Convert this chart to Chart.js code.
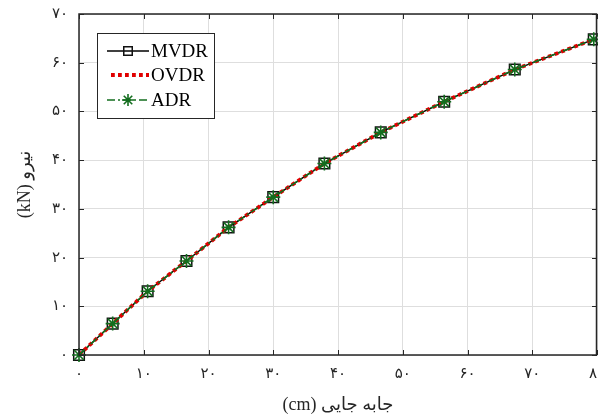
<!DOCTYPE html>
<html>
<head>
<meta charset="utf-8">
<script src="https://cdn.jsdelivr.net/npm/chart.js@4/dist/chart.umd.min.js"></script>
<style>
  html, body { margin: 0; padding: 0; background: #fff; }
  #wrap { width: 598px; height: 419px; }
</style>
</head>
<body>
<div id="wrap"><canvas id="chart" width="598" height="419"></canvas></div>
<script>
// displacement (cm) and force (kN)
const displacement = [0, 5.2, 10.6, 16.6, 23.1, 30.0, 37.9, 46.6, 56.4, 67.3, 79.5]
const mvdr = [0, 6.45, 13.1, 19.3, 26.2, 32.4, 39.3, 45.7, 52.0, 58.6, 64.8]
const ovdr = [0, 6.45, 13.1, 19.3, 26.2, 32.4, 39.3, 45.7, 52.0, 58.6, 64.8]
const adr = [0, 6.45, 13.1, 19.3, 26.2, 32.4, 39.3, 45.7, 52.0, 58.6, 64.8]
const xTicks = [0, 10, 20, 30, 40, 50, 60, 70, 80]
const yTicks = [0, 10, 20, 30, 40, 50, 60, 70]
const seriesNames = ["MVDR", "OVDR", "ADR"]

const SERIF = "'Liberation Serif', 'DejaVu Sans', serif"
const AXIS = "#262626"
const GREEN = "#136d1e"
const RED = "#e00000"

const toFa = n => String(n).replace(/\d/g, d => "۰۱۲۳۴۵۶۷۸۹"[d])
const pts = ys => displacement.map((x, i) => ({ x: x, y: ys[i] }))

const styles = [
    { borderColor: "#000", borderWidth: 1.4, borderDash: [], pointStyle: "rect", pointRadius: 7.5, pointBorderWidth: 1.5, pointBorderColor: "#111", order: 3 },
    { borderColor: RED, borderWidth: 3.8, borderDash: [3.8, 3.2], pointStyle: false, pointRadius: 0, pointBorderWidth: 0, pointBorderColor: RED, order: 2 },
    { borderColor: GREEN, borderWidth: 1.7, borderDash: [8, 3, 2, 3], pointStyle: "star", pointRadius: 7, pointBorderWidth: 1.6, pointBorderColor: GREEN, order: 1 }
]

// frame, inner ticks and a MATLAB-like legend
const framePlugin = {
    id: "frame",
    afterDraw(chart) {
        const { ctx, chartArea: a, scales } = chart
        ctx.save()
        ctx.strokeStyle = AXIS
        ctx.lineWidth = 1
        ctx.beginPath()
        xTicks.forEach(v => {
            const px = Math.round(scales.x.getPixelForValue(v)) + 0.5
            ctx.moveTo(px, a.bottom); ctx.lineTo(px, a.bottom - 5)
            ctx.moveTo(px, a.top); ctx.lineTo(px, a.top + 5)
        })
        yTicks.forEach(v => {
            const py = Math.round(scales.y.getPixelForValue(v)) + 0.5
            ctx.moveTo(a.left, py); ctx.lineTo(a.left + 5, py)
            ctx.moveTo(a.right, py); ctx.lineTo(a.right - 5, py)
        })
        ctx.stroke()
        ctx.lineWidth = 1.5
        ctx.strokeRect(a.left, a.top, a.right - a.left - 0.5, a.bottom - a.top)

        // legend
        const lx = 97.5, ly = 33.5, lw = 117, lh = 85
        ctx.fillStyle = "#fff"
        ctx.fillRect(lx, ly, lw, lh)
        ctx.lineWidth = 1
        ctx.strokeStyle = AXIS
        ctx.strokeRect(lx, ly, lw, lh)
        const rows = [51, 75, 100]
        ctx.font = "19px " + SERIF
        ctx.textBaseline = "middle"
        rows.forEach((y, i) => {
            const s = styles[i]
            ctx.strokeStyle = s.borderColor
            ctx.lineWidth = s.borderWidth
            ctx.setLineDash(s.borderDash)
            ctx.beginPath()
            ctx.moveTo(i === 1 ? 111 : 107, y)
            ctx.lineTo(149, y)
            ctx.stroke()
            ctx.setLineDash([])
            if (s.pointStyle) {
                ctx.strokeStyle = s.pointBorderColor
                ctx.fillStyle = "rgba(0,0,0,0)"
                ctx.lineWidth = s.pointBorderWidth
                Chart.helpers.drawPoint(ctx, { pointStyle: s.pointStyle, radius: 6, rotation: 0, borderWidth: s.pointBorderWidth }, 128, y)
            }
            ctx.fillStyle = "#000"
            ctx.fillText(seriesNames[i], 151, y + 1)
        })
        ctx.restore()
    }
}

const datasets = [mvdr, ovdr, adr].map((ys, i) => Object.assign({
    label: seriesNames[i],
    data: pts(ys),
    pointBackgroundColor: "rgba(0,0,0,0)",
    fill: false,
    clip: false,
    tension: 0
}, styles[i]))

new Chart(document.getElementById("chart"), {
    type: "line",
    data: { datasets: datasets },
    options: {
        responsive: false,
        animation: false,
        events: [],
        layout: { autoPadding: false, padding: { left: 0, right: 1, top: 14, bottom: 0 } },
        plugins: { legend: { display: false }, tooltip: { enabled: false } },
        scales: {
            x: {
                type: "linear",
                min: 0,
                max: 80,
                afterFit: s => { s.height = 64; s.paddingRight = 0; s.paddingLeft = 0 },
                afterBuildTicks: s => { s.ticks = xTicks.map(v => ({ value: v })) },
                grid: { color: "#dedede", lineWidth: 1, drawTicks: false },
                border: { display: false },
                ticks: { padding: 10, color: AXIS, font: { family: SERIF, size: 15 }, callback: v => toFa(v), maxRotation: 0, autoSkip: false },
                title: { display: true, text: "(cm) جابه جایی", color: AXIS, font: { family: SERIF, size: 18 }, padding: { top: 0, bottom: 3 } }
            },
            y: {
                type: "linear",
                min: 0,
                max: 70,
                afterFit: s => { s.width = 79; s.paddingTop = 0; s.paddingBottom = 0 },
                afterBuildTicks: s => { s.ticks = yTicks.map(v => ({ value: v })) },
                grid: { color: "#dedede", lineWidth: 1, drawTicks: false },
                border: { display: false },
                ticks: { padding: 11, color: AXIS, font: { family: SERIF, size: 15 }, callback: v => toFa(v), autoSkip: false },
                title: { display: true, text: "(kN) نیرو", color: AXIS, font: { family: SERIF, size: 18 }, padding: { top: 14, bottom: 0 } }
            }
        }
    },
    plugins: [framePlugin]
})
</script>
</body>
</html>
